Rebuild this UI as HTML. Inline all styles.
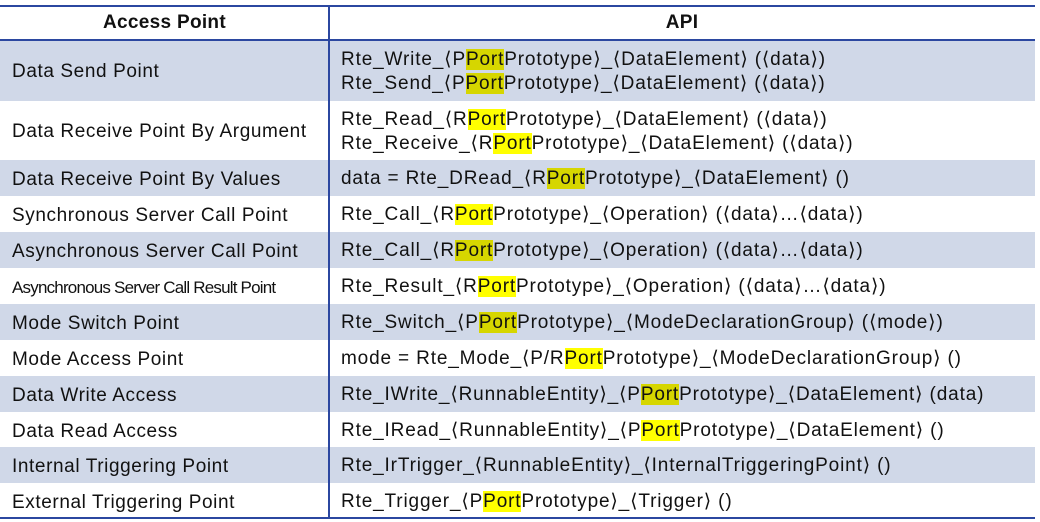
<!DOCTYPE html>
<html><head><meta charset="utf-8"><style>
body{margin:0;width:1040px;height:522px;background:#fff;font-family:"Liberation Sans","DejaVu Sans",sans-serif;overflow:hidden;position:relative}
.r{position:absolute;left:0;width:1035px;}
.b{background:#d0d8e8}
.c1{position:absolute;left:12px;font-size:19px;letter-spacing:0.6px;color:#111;white-space:nowrap}
.c2{position:absolute;left:341px;font-size:19px;letter-spacing:0.85px;color:#111;white-space:nowrap;line-height:24px}
.h{background:#ffff00}
.b .h{background:#d6d600}
.line{position:absolute;background:#2b47a0}
</style></head><body>
<div class="line" style="left:0;top:5px;width:1035px;height:2px"></div>
<div class="c1" style="left:0;width:329px;text-align:center;top:12px;font-weight:bold;letter-spacing:0.3px">Access Point</div>
<div class="c1" style="left:329px;width:706px;text-align:center;top:12px;font-weight:bold;letter-spacing:0.3px">API</div>
<div class="line" style="left:0;top:39px;width:1035px;height:2px"></div>

<div class="r b" style="top:41px;height:60px"><div class="c1" style="top:20px">Data Send Point</div><div class="c2" style="top:7px">Rte_Write_⟨P<span class="h">Port</span>Prototype⟩_⟨DataElement⟩ (⟨data⟩)<br>Rte_Send_⟨P<span class="h">Port</span>Prototype⟩_⟨DataElement⟩ (⟨data⟩)</div></div>
<div class="r" style="top:101px;height:59px"><div class="c1" style="top:20px">Data Receive Point By Argument</div><div class="c2" style="top:7px">Rte_Read_⟨R<span class="h">Port</span>Prototype⟩_⟨DataElement⟩ (⟨data⟩)<br>Rte_Receive_⟨R<span class="h">Port</span>Prototype⟩_⟨DataElement⟩ (⟨data⟩)</div></div>
<div class="r b" style="top:160px;height:36px"><div class="c1" style="top:9px">Data Receive Point By Values</div><div class="c2" style="top:7px">data = Rte_DRead_⟨R<span class="h">Port</span>Prototype⟩_⟨DataElement⟩ ()</div></div>
<div class="r" style="top:196px;height:36px"><div class="c1" style="top:9px">Synchronous Server Call Point</div><div class="c2" style="top:7px">Rte_Call_⟨R<span class="h">Port</span>Prototype⟩_⟨Operation⟩ (⟨data⟩…⟨data⟩)</div></div>
<div class="r b" style="top:232px;height:36px"><div class="c1" style="top:9px">Asynchronous Server Call Point</div><div class="c2" style="top:7px">Rte_Call_⟨R<span class="h">Port</span>Prototype⟩_⟨Operation⟩ (⟨data⟩…⟨data⟩)</div></div>
<div class="r" style="top:268px;height:36px"><div class="c1" style="top:10px;font-size:17px;letter-spacing:-0.8px">Asynchronous Server Call Result Point</div><div class="c2" style="top:7px">Rte_Result_⟨R<span class="h">Port</span>Prototype⟩_⟨Operation⟩ (⟨data⟩…⟨data⟩)</div></div>
<div class="r b" style="top:304px;height:36px"><div class="c1" style="top:9px">Mode Switch Point</div><div class="c2" style="top:7px">Rte_Switch_⟨P<span class="h">Port</span>Prototype⟩_⟨ModeDeclarationGroup⟩ (⟨mode⟩)</div></div>
<div class="r" style="top:340px;height:36px"><div class="c1" style="top:9px">Mode Access Point</div><div class="c2" style="top:7px">mode = Rte_Mode_⟨P/R<span class="h">Port</span>Prototype⟩_⟨ModeDeclarationGroup⟩ ()</div></div>
<div class="r b" style="top:376px;height:36px"><div class="c1" style="top:9px">Data Write Access</div><div class="c2" style="top:7px">Rte_IWrite_⟨RunnableEntity⟩_⟨P<span class="h">Port</span>Prototype⟩_⟨DataElement⟩ (data)</div></div>
<div class="r" style="top:412px;height:35px"><div class="c1" style="top:9px">Data Read Access</div><div class="c2" style="top:7px">Rte_IRead_⟨RunnableEntity⟩_⟨P<span class="h">Port</span>Prototype⟩_⟨DataElement⟩ ()</div></div>
<div class="r b" style="top:447px;height:36px"><div class="c1" style="top:9px">Internal Triggering Point</div><div class="c2" style="top:7px">Rte_IrTrigger_⟨RunnableEntity⟩_⟨InternalTriggeringPoint⟩ ()</div></div>
<div class="r" style="top:483px;height:35px"><div class="c1" style="top:9px">External Triggering Point</div><div class="c2" style="top:7px">Rte_Trigger_⟨P<span class="h">Port</span>Prototype⟩_⟨Trigger⟩ ()</div></div>

<div class="line" style="left:0;top:517px;width:1035px;height:2px"></div>
<div class="line" style="left:328px;top:5px;width:2px;height:514px"></div>
</body></html>
